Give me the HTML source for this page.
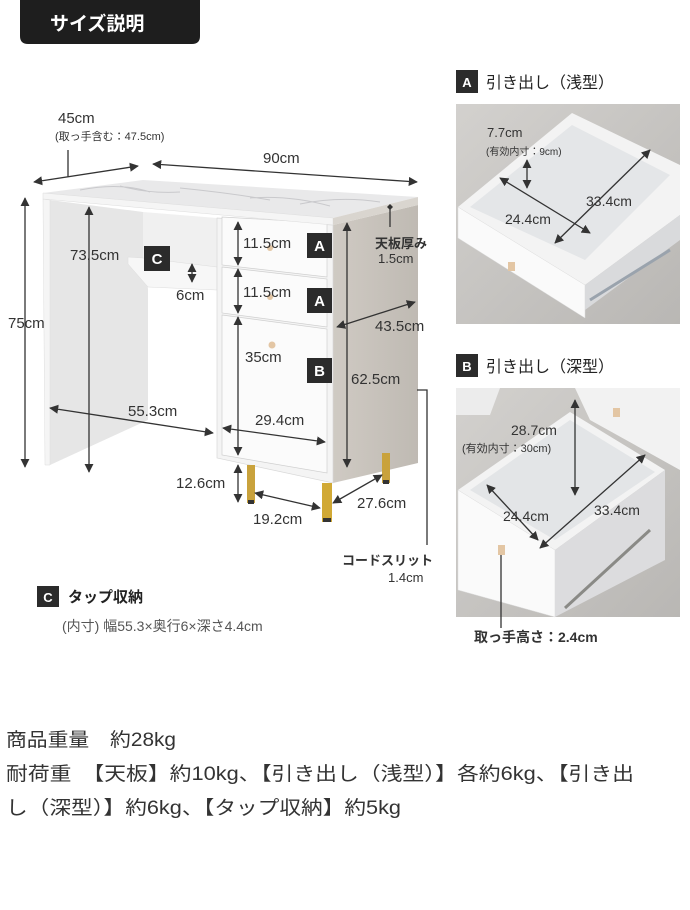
<!DOCTYPE html>
<html><head><meta charset="utf-8"><style>
html,body{margin:0;padding:0;background:#fff;}
svg{display:block;font-family:"Liberation Sans","Noto Sans CJK JP",sans-serif;}
</style></head><body>
<svg width="690" height="910" viewBox="0 0 690 910" xmlns="http://www.w3.org/2000/svg">
<defs>
<marker id="ar" viewBox="0 0 10 10" refX="9" refY="5" markerWidth="7" markerHeight="7" orient="auto-start-reverse"><path d="M0,0 L10,5 L0,10 z" fill="#333"/></marker>
<linearGradient id="bg1" x1="0" y1="0" x2="1" y2="1"><stop offset="0" stop-color="#d3d1ce"/><stop offset="1" stop-color="#b9b7b4"/></linearGradient>
<linearGradient id="side" x1="0" y1="0" x2="1" y2="0"><stop offset="0" stop-color="#cfcac3"/><stop offset="1" stop-color="#bfbab3"/></linearGradient>
</defs>
<path d="M20,0 H200 V36 Q200,44 192,44 H28 Q20,44 20,36 Z" fill="#1e1e1e"/>
<text x="50" y="30" font-size="19" font-weight="bold" fill="#fff">サイズ説明</text>

<polygon points="50,200 143,212 148,290 148,420 50,465" fill="#e6e6e6"/>
<polygon points="43,199 50,200 50,465 45,465" fill="#f5f5f5" stroke="#ddd" stroke-width="0.5"/>
<polygon points="143,212 217,218 217,267 143,258" fill="#f0f0f0"/>
<polygon points="128,257 143,258 217,267 217,290 148,287 128,264" fill="#f7f7f7" stroke="#ddd" stroke-width="0.5"/>
<polygon points="333,225 418,205 418,463 333,483" fill="url(#side)"/>
<polygon points="217,218 333,225 333,483 217,458" fill="#f4f4f4" stroke="#d8d8d8" stroke-width="0.7"/>
<polygon points="222,217 327,223 327,277 222,265" fill="#fbfbfb" stroke="#cfcfcf" stroke-width="0.7"/>
<polygon points="222,267 327,279 327,327 222,313" fill="#fbfbfb" stroke="#cfcfcf" stroke-width="0.7"/>
<polygon points="222,315 327,329 327,473 222,455" fill="#fbfbfb" stroke="#cfcfcf" stroke-width="0.7"/>
<circle cx="270" cy="248" r="3" fill="#e3c6a4"/><circle cx="270" cy="297" r="3" fill="#e3c6a4"/><circle cx="272" cy="345" r="3.5" fill="#e3c6a4"/>
<polygon points="43,193 143,180 418,197 333,218" fill="#e9e9ea"/>
<polygon points="43,193 333,218 333,225 43,199" fill="#f5f5f5" stroke="#ddd" stroke-width="0.5"/>
<polygon points="333,218 418,197 418,205 333,225" fill="#d9d5cf"/>
<path d="M80,190 q40,-8 70,2 M180,188 q50,5 90,12 M120,186 q30,8 60,6 M250,198 q40,-3 80,8 M300,204 q40,-8 80,-2" stroke="#c9c9cc" stroke-width="1" fill="none"/>
<rect x="247" y="465" width="8" height="38" fill="#c9a23c"/><rect x="248" y="500" width="6" height="4" fill="#333"/>
<rect x="322" y="483" width="10" height="39" fill="#d1a935"/><rect x="323" y="518" width="8" height="4" fill="#333"/>
<rect x="382" y="453" width="8" height="30" fill="#c9a23c"/><rect x="383" y="480" width="6" height="4" fill="#333"/>

<g font-weight="bold" font-size="15" fill="#fff">
<rect x="307" y="233" width="25" height="25" fill="#2b2b2b"/><text x="319.5" y="251" text-anchor="middle">A</text>
<rect x="307" y="288" width="25" height="25" fill="#2b2b2b"/><text x="319.5" y="306" text-anchor="middle">A</text>
<rect x="307" y="358" width="25" height="25" fill="#2b2b2b"/><text x="319.5" y="376" text-anchor="middle">B</text>
<rect x="144" y="246" width="26" height="25" fill="#2b2b2b"/><text x="157" y="264" text-anchor="middle">C</text>
</g>

<g stroke="#333" stroke-width="1.3" fill="none">
<line x1="68" y1="150" x2="68" y2="177"/>
<line x1="34" y1="182" x2="138" y2="166" marker-start="url(#ar)" marker-end="url(#ar)"/>
<line x1="153" y1="164" x2="417" y2="182" marker-start="url(#ar)" marker-end="url(#ar)"/>
<line x1="25" y1="198" x2="25" y2="467" marker-start="url(#ar)" marker-end="url(#ar)"/>
<line x1="89" y1="207" x2="89" y2="472" marker-start="url(#ar)" marker-end="url(#ar)"/>
<line x1="192" y1="264" x2="192" y2="282" marker-start="url(#ar)" marker-end="url(#ar)"/>
<line x1="238" y1="222" x2="238" y2="265" marker-start="url(#ar)" marker-end="url(#ar)"/>
<line x1="238" y1="269" x2="238" y2="313" marker-start="url(#ar)" marker-end="url(#ar)"/>
<line x1="238" y1="317" x2="238" y2="455" marker-start="url(#ar)" marker-end="url(#ar)"/>
<line x1="238" y1="465" x2="238" y2="502" marker-start="url(#ar)" marker-end="url(#ar)"/>
<line x1="347" y1="223" x2="347" y2="467" marker-start="url(#ar)" marker-end="url(#ar)"/>
<line x1="337" y1="327" x2="415" y2="302" marker-start="url(#ar)" marker-end="url(#ar)"/>
<line x1="50" y1="408" x2="213" y2="433" marker-start="url(#ar)" marker-end="url(#ar)"/>
<line x1="223" y1="428" x2="325" y2="442" marker-start="url(#ar)" marker-end="url(#ar)"/>
<line x1="255" y1="493" x2="320" y2="508" marker-start="url(#ar)" marker-end="url(#ar)"/>
<line x1="333" y1="503" x2="382" y2="475" marker-start="url(#ar)" marker-end="url(#ar)"/>
<line x1="390" y1="207" x2="390" y2="227"/>
<polyline points="417,390 427,390 427,545"/>
</g>
<path d="M390,204 l3,3 l-3,3 l-3,-3z" fill="#333"/>

<g fill="#333" font-size="15">
<text x="58" y="123">45cm</text>
<text x="55" y="140" font-size="11">(取っ手含む：47.5cm)</text>
<text x="263" y="163">90cm</text>
<text x="70" y="260">73.5cm</text>
<text x="8" y="328">75cm</text>
<text x="176" y="300">6cm</text>
<text x="243" y="248">11.5cm</text>
<text x="243" y="297">11.5cm</text>
<text x="245" y="362">35cm</text>
<text x="128" y="416">55.3cm</text>
<text x="255" y="425">29.4cm</text>
<text x="176" y="488">12.6cm</text>
<text x="253" y="524">19.2cm</text>
<text x="357" y="508">27.6cm</text>
<text x="375" y="331">43.5cm</text>
<text x="351" y="384">62.5cm</text>
<text x="375" y="248" font-size="13" font-weight="bold">天板厚み</text>
<text x="378" y="263" font-size="13">1.5cm</text>
<text x="342" y="565" font-size="13" font-weight="bold">コードスリット</text>
<text x="388" y="582" font-size="13">1.4cm</text>
</g>

<rect x="37" y="586" width="22" height="21" fill="#2b2b2b"/>
<text x="48" y="602" text-anchor="middle" font-size="13" font-weight="bold" fill="#fff">C</text>
<text x="68" y="602" font-size="15" font-weight="bold" fill="#222">タップ収納</text>
<text x="62" y="631" font-size="14" fill="#555">(内寸) 幅55.3×奥行6×深さ4.4cm</text>

<rect x="456" y="70" width="22" height="23" fill="#2b2b2b"/>
<text x="467" y="87" text-anchor="middle" font-size="13" font-weight="bold" fill="#fff">A</text>
<text x="486" y="88" font-size="16" fill="#222">引き出し（浅型）</text>
<rect x="456" y="104" width="224" height="220" fill="url(#bg1)"/>
<polygon points="458,207 572,113 680,165 680,215 585,285" fill="#f3f3f3"/>
<polygon points="470,207 572,125 670,175 585,260" fill="#e4e6e8"/>
<polygon points="458,207 585,285 585,318 458,238" fill="#fafafa" stroke="#ddd" stroke-width="0.5"/>
<polygon points="585,285 680,215 680,240 585,310" fill="#d9dadc"/>
<line x1="590" y1="300" x2="670" y2="250" stroke="#9aa3ad" stroke-width="3"/>
<rect x="508" y="262" width="7" height="9" fill="#e3c6a4"/>
<g stroke="#333" stroke-width="1.3">
<line x1="527" y1="160" x2="527" y2="188" marker-start="url(#ar)" marker-end="url(#ar)"/>
<line x1="500" y1="178" x2="590" y2="233" marker-start="url(#ar)" marker-end="url(#ar)"/>
<line x1="650" y1="150" x2="555" y2="243" marker-start="url(#ar)" marker-end="url(#ar)"/>
</g>
<g fill="#333">
<text x="487" y="137" font-size="13">7.7cm</text>
<text x="486" y="155" font-size="10">(有効内寸：9cm)</text>
<text x="505" y="224" font-size="14">24.4cm</text>
<text x="586" y="206" font-size="14">33.4cm</text>
</g>

<rect x="456" y="354" width="22" height="23" fill="#2b2b2b"/>
<text x="467" y="371" text-anchor="middle" font-size="13" font-weight="bold" fill="#fff">B</text>
<text x="486" y="372" font-size="16" fill="#222">引き出し（深型）</text>
<rect x="456" y="388" width="224" height="229" fill="url(#bg1)"/>
<polygon points="456,388 500,388 490,415 456,415" fill="#ececec"/>
<polygon points="575,388 680,388 680,470 590,420" fill="#f2f2f2"/>
<polygon points="458,490 570,412 665,470 555,550" fill="#f3f3f3"/>
<polygon points="470,490 570,420 655,472 555,540" fill="#e3e5e7"/>
<polygon points="458,490 555,550 555,617 458,590" fill="#fafafa" stroke="#ddd" stroke-width="0.5"/>
<polygon points="555,550 665,470 665,560 555,617" fill="#dcdcde"/>
<line x1="565" y1="608" x2="650" y2="530" stroke="#8a8a86" stroke-width="3"/>
<rect x="498" y="545" width="7" height="10" fill="#e3c6a4"/>
<rect x="613" y="408" width="7" height="9" fill="#e3c6a4"/>
<g stroke="#333" stroke-width="1.3">
<line x1="575" y1="400" x2="575" y2="495" marker-start="url(#ar)" marker-end="url(#ar)"/>
<line x1="487" y1="485" x2="538" y2="540" marker-start="url(#ar)" marker-end="url(#ar)"/>
<line x1="645" y1="455" x2="540" y2="548" marker-start="url(#ar)" marker-end="url(#ar)"/>
<line x1="501" y1="555" x2="501" y2="628"/>
</g>
<g fill="#333">
<text x="511" y="435" font-size="14">28.7cm</text>
<text x="462" y="452" font-size="11">(有効内寸：30cm)</text>
<text x="503" y="521" font-size="14">24.4cm</text>
<text x="594" y="515" font-size="14">33.4cm</text>
<text x="474" y="642" font-size="14" font-weight="bold">取っ手高さ：2.4cm</text>
</g>

<g fill="#333" font-size="19">
<text x="6" y="746" textLength="170" lengthAdjust="spacingAndGlyphs">商品重量　約28kg</text>
<text x="6" y="780" textLength="628" lengthAdjust="spacingAndGlyphs">耐荷重　【天板】約10kg、【引き出し（浅型）】各約6kg、【引き出</text>
<text x="6" y="814" textLength="395" lengthAdjust="spacingAndGlyphs">し（深型）】約6kg、【タップ収納】約5kg</text>
</g>
</svg>
</body></html>
